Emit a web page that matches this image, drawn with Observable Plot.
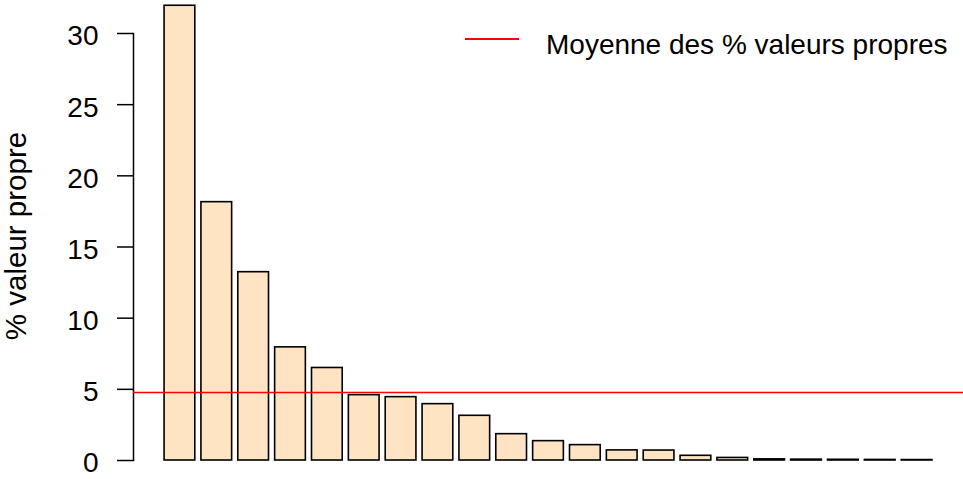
<!DOCTYPE html>
<html><head><meta charset="utf-8">
<script src="https://cdn.jsdelivr.net/npm/d3@7"></script>
<script src="https://cdn.jsdelivr.net/npm/@observablehq/plot@0.6"></script>
<style>
html,body{margin:0;padding:0;background:#fff;}
#wrap{position:relative;width:963px;height:479px;font-family:"Liberation Sans",Arial,sans-serif;}
#legend-line{position:absolute;left:465px;top:38.3px;width:54px;height:2px;background:#ff0000;}
#legend-text{position:absolute;left:546px;top:30.6px;font-size:28px;line-height:28px;white-space:nowrap;color:#000;}
</style></head><body>
<div id="wrap"></div>
<script>
const components = ["Dim.1","Dim.2","Dim.3","Dim.4","Dim.5","Dim.6","Dim.7","Dim.8","Dim.9","Dim.10","Dim.11","Dim.12","Dim.13","Dim.14","Dim.15","Dim.16","Dim.17","Dim.18","Dim.19","Dim.20","Dim.21"];
const percentVariance = [31.95, 18.15, 13.23, 7.95, 6.5, 4.59, 4.45, 3.96, 3.14, 1.85, 1.36, 1.08, 0.71, 0.70, 0.33, 0.18, 0.08, 0.06, 0.05, 0.04, 0.03];
const yTicks = [0, 5, 10, 15, 20, 25, 30];
const yLabel = "% valeur propre";
const legendLabel = "Moyenne des % valeurs propres";

const table = components.map((c, i) => ({component: c, value: percentVariance[i]}));
const meanPercent = d3.mean(percentVariance);

const chart = Plot.plot({
  width: 963,
  height: 479,
  marginLeft: 133,
  marginRight: 0,
  marginTop: 33,
  marginBottom: 19,
  style: {fontFamily: "'Liberation Sans', Arial, sans-serif", fontSize: "28px", color: "#000", background: "#fff"},
  x: {type: "band", domain: components, paddingInner: 0.2 / 1.2, paddingOuter: 0.843, round: false, axis: null},
  y: {domain: [0, 30], axis: null},
  marks: [
    Plot.barY(table, {x: "component", y: "value", fill: "#FFE4C4", stroke: "#000", strokeWidth: 1.6}),
    Plot.frame({anchor: "left", stroke: "#000", strokeWidth: 1.5}),
    Plot.axisY(yTicks, {tickSize: 16, fill: "none", stroke: "#000", strokeWidth: 1.5, label: null}),
    Plot.axisY(yTicks, {tickSize: 0, tickPadding: 35, dy: 3, fill: "#000", label: null}),
    Plot.ruleY([meanPercent], {stroke: "#ff0000", strokeWidth: 1.5}),
    Plot.text([yLabel], {frameAnchor: "left", textAnchor: "middle", lineAnchor: "middle", rotate: -90, dx: -117, dy: -11, fontSize: 29.5, fill: "#000"})
  ]
});
const wrap = document.getElementById("wrap");
wrap.appendChild(chart);
const ll = document.createElement("div"); ll.id = "legend-line"; wrap.appendChild(ll);
const lt = document.createElement("div"); lt.id = "legend-text"; lt.textContent = legendLabel; wrap.appendChild(lt);
</script>
</body></html>
